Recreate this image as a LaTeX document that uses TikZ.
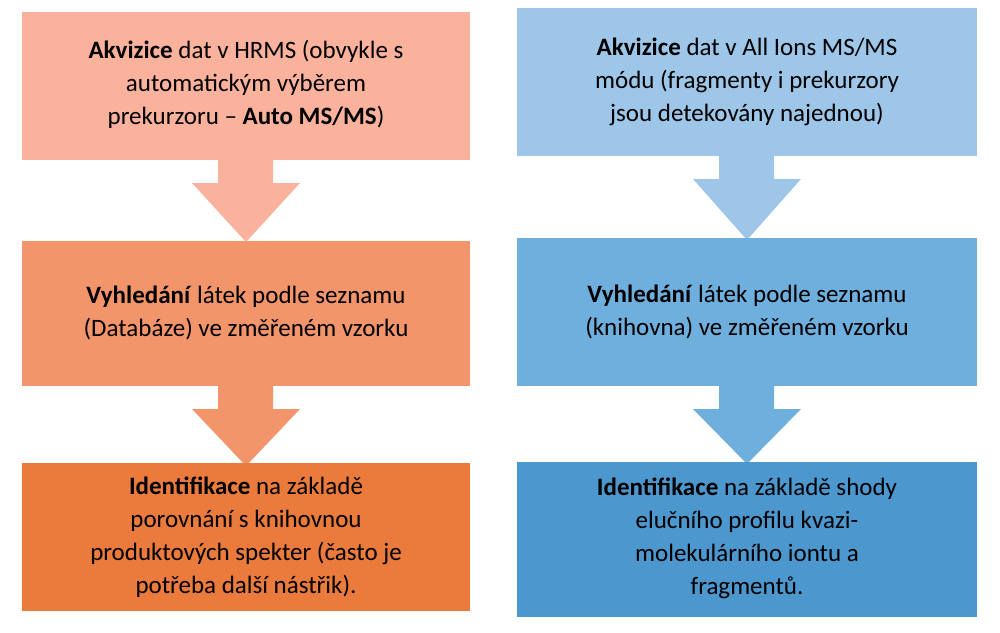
\documentclass[tikz,border=0pt]{standalone}
\usepackage{fontspec}
\setmainfont{Carlito}
\begin{document}
\begin{tikzpicture}[x=1pt,y=-1pt,
 bx/.style={inner sep=0pt,align=center,font=\fontsize{25}{33}\selectfont}]
\useasboundingbox (0,0) rectangle (1000,632);
\definecolor{lA}{HTML}{FBB29C}\definecolor{lB}{HTML}{F3956B}\definecolor{lC}{HTML}{EB7B3D}
\definecolor{rA}{HTML}{9DC6E8}\definecolor{rB}{HTML}{6FAFDE}\definecolor{rC}{HTML}{4C97CD}
\newcommand{\arr}[4]{\fill[#4] (#1-28,#2) -- (#1+27,#2) -- (#1+27,#2+25) -- (#1+54,#2+25) -- (#1,#3) -- (#1-54,#2+25) -- (#1-28,#2+25) -- cycle;}
\arr{246}{158}{242}{lA}
\arr{246}{384}{466}{lB}
\arr{747}{154}{240}{rA}
\arr{747}{384}{464}{rB}
\fill[lA] (22,12) rectangle (470,160); \node[bx] (l1) at (246,84) {\textbf{Akvizice} dat v HRMS (obvykle s\\automatickým výběrem\\prekurzoru – \textbf{Auto MS/MS})};
\fill[lB] (22,241) rectangle (470,386); \node[bx] (l2) at (246,313) {\textbf{Vyhledání} látek podle seznamu\\(Databáze) ve změřeném vzorku};
\fill[lC] (22,463) rectangle (470,611); \node[bx] (l3) at (246,537) {\textbf{Identifikace} na základě\\porovnání s knihovnou\\produktových spekter (často je\\potřeba další nástřik).};
\fill[rA] (517,8) rectangle (977,156); \node[bx] (r1) at (747,82) {\textbf{Akvizice} dat v All Ions MS/MS\\módu (fragmenty i prekurzory\\jsou detekovány najednou)};
\fill[rB] (517,238) rectangle (977,386); \node[bx] (r2) at (747,312) {\textbf{Vyhledání} látek podle seznamu\\(knihovna) ve změřeném vzorku};
\fill[rC] (517,462) rectangle (977,617); \node[bx] (r3) at (747,538) {\textbf{Identifikace} na základě shody\\elučního profilu kvazi-\\molekulárního iontu a\\fragmentů.};
\end{tikzpicture}
\end{document}
